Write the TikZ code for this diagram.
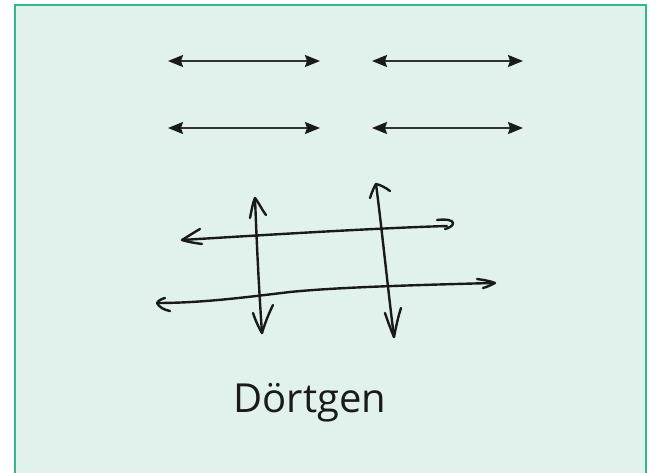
\documentclass[tikz,border=0pt]{standalone}
\usepackage{fontspec}
\newfontfamily\handfont{Open Sans}
\usetikzlibrary{arrows.meta}
\definecolor{bgfill}{HTML}{E1F2EC}
\definecolor{frameline}{HTML}{2DB891}
\definecolor{ink}{HTML}{1A1A1A}
\begin{document}
\begin{tikzpicture}[x=1pt,y=-1pt,
  neat/.style={ink!90, line width=1.8pt, {Stealth[length=15pt,width=12pt,inset=2pt,color=ink]}-{Stealth[length=15pt,width=12pt,inset=2pt,color=ink]}},
  sketch/.style={ink, line width=2.4pt, line cap=round, line join=round}]
\useasboundingbox (0,0) rectangle (662,473);
\fill[white] (0,0) rectangle (662,473);
\draw[frameline, fill=bgfill, line width=2pt] (15,5) rectangle (646,490);
% neat double arrows
\coordinate (a1l) at (168,61); \coordinate (a1r) at (320,61);
\coordinate (a2l) at (372,61); \coordinate (a2r) at (523,61);
\coordinate (a3l) at (168,128); \coordinate (a3r) at (320,128);
\coordinate (a4l) at (372,128); \coordinate (a4r) at (523,128);
\draw[neat] (a1l) -- (a1r);
\draw[neat] (a2l) -- (a2r);
\draw[neat] (a3l) -- (a3r);
\draw[neat] (a4l) -- (a4r);
% hand-drawn verticals
\draw[sketch] (255,198) .. controls (257,250) and (259,290) .. (262,333);
\draw[sketch] (250,218) .. controls (252,208) and (253,202) .. (255,198) .. controls (259,203) and (262,210) .. (266,215);
\draw[sketch] (253,313) .. controls (256,322) and (259,328) .. (262,333) .. controls (265,323) and (269,313) .. (273,305);
\draw[sketch] (376,184) .. controls (382,230) and (388,290) .. (394,337);
\draw[sketch] (370,198) .. controls (372,192) and (374,187) .. (376,184) .. controls (381,185) and (386,188) .. (390,191);
\draw[sketch] (385,313) .. controls (388,322) and (391,330) .. (394,337) .. controls (396,327) and (398,317) .. (401,308);
% hand-drawn horizontals
\draw[sketch] (182,240) .. controls (280,234) and (380,228) .. (447,226);
\draw[sketch] (200,229) .. controls (193,233) and (187,237) .. (182,240) .. controls (188,242) and (195,243) .. (202,244);
\draw[sketch] (437,220) .. controls (446,219) and (453,220) .. (453,223) .. controls (453,226) and (449,228) .. (445,229);
\draw[sketch] (157,303) .. controls (200,303) and (240,298) .. (290,292) .. controls (340,287) and (420,285) .. (492,283);
\draw[sketch] (165,298) .. controls (161,299) and (158,301) .. (157,303) .. controls (159,307) and (164,310) .. (170,311);
\draw[sketch] (477,279) .. controls (484,280) and (490,281) .. (495,283) .. controls (491,285) and (487,287) .. (483,288);
% label
\node[anchor=base, inner sep=0pt, font=\handfont\fontsize{40}{44}\selectfont, text=ink] (lbl) at (310,413) {Dörtgen};
\end{tikzpicture}
\end{document}
